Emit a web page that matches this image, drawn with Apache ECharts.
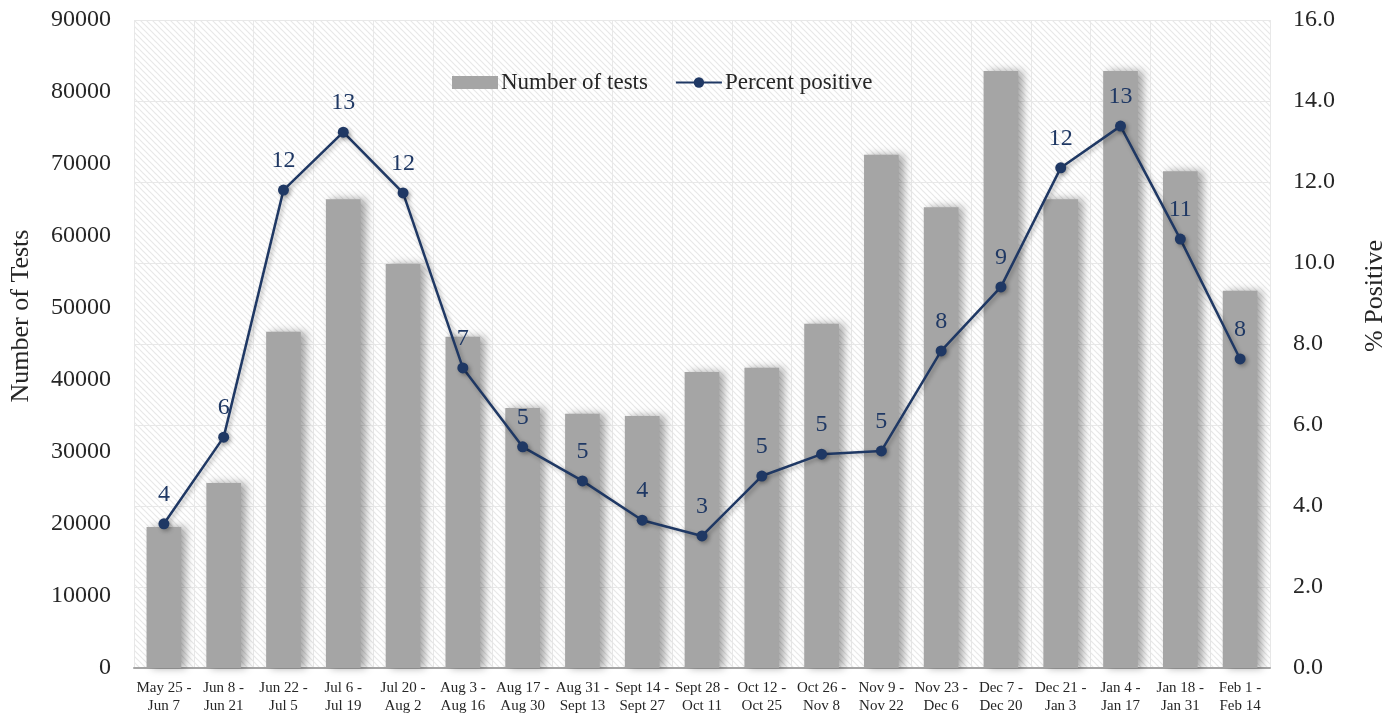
<!DOCTYPE html>
<html>
<head>
<meta charset="utf-8">
<script src="https://cdn.jsdelivr.net/npm/echarts@6/dist/echarts.min.js"></script>
<style>html,body{margin:0;padding:0;background:#fff;}#c{width:1400px;height:717px;}</style>
</head>
<body>
<div id="c"></div>
<script>
const categories = ["May 25 -\nJun 7","Jun 8 -\nJun 21","Jun 22 -\nJul 5","Jul 6 -\nJul 19","Jul 20 -\nAug 2","Aug 3 -\nAug 16","Aug 17 -\nAug 30","Aug 31 -\nSept 13","Sept 14 -\nSept 27","Sept 28 -\nOct 11","Oct 12 -\nOct 25","Oct 26 -\nNov 8","Nov 9 -\nNov 22","Nov 23 -\nDec 6","Dec 7 -\nDec 20","Dec 21 -\nJan 3","Jan 4 -\nJan 17","Jan 18 -\nJan 31","Feb 1 -\nFeb 14"];
const numberOfTests = [19600,25700,46700,65100,56100,46000,36100,35300,35000,41100,41700,47800,71300,64000,82900,65100,82900,69000,52400];
const percentPositive = [3.56,5.70,11.80,13.23,11.73,7.41,5.46,4.62,3.65,3.26,4.74,5.28,5.36,7.83,9.41,12.35,13.38,10.59,7.63];
const leftTicks = {min:0,max:90000,interval:10000};
const rightTicks = {min:0,max:16,interval:2};

const FONT = '"Liberation Serif", "DejaVu Serif", serif';
const TXT = '#262626';
const NAVY = '#1F3864';

// hatch pattern for plot background
const pc = document.createElement('canvas');
pc.width = 6; pc.height = 6;
const px = pc.getContext('2d');
px.fillStyle = '#ffffff'; px.fillRect(0,0,6,6);
px.strokeStyle = '#e8e8e8'; px.lineWidth = 1.2;
px.beginPath(); px.moveTo(-1,-1); px.lineTo(7,7); px.stroke();
px.beginPath(); px.moveTo(-1,5); px.lineTo(1,7); px.stroke();
px.beginPath(); px.moveTo(5,-1); px.lineTo(7,1); px.stroke();

const chart = echarts.init(document.getElementById('c'), null, {renderer:'canvas'});
chart.setOption({
  animation:false,
  backgroundColor:'#ffffff',
  textStyle:{fontFamily:FONT},
  grid:{left:133,right:130,top:20,bottom:49,show:true,borderWidth:0,
        backgroundColor:{image:pc,repeat:'repeat'}},
  legend:{
    left:447, top:66, itemWidth:46, itemHeight:13, itemGap:27,
    textStyle:{fontFamily:FONT,fontSize:23,color:TXT,padding:[0,0,0,-2]},
    data:[{name:'Number of tests',icon:'rect'},{name:'Percent positive'}]
  },
  xAxis:{
    type:'category', data:categories, boundaryGap:true,
    axisLine:{show:true,lineStyle:{color:'#A6A6A6',width:2}},
    axisTick:{show:false},
    splitLine:{show:true,interval:0,lineStyle:{color:'#E8E8E8',width:1}},
    axisLabel:{interval:0,margin:11,fontFamily:FONT,fontSize:15,lineHeight:18,color:TXT}
  },
  yAxis:[
    {type:'value',min:leftTicks.min,max:leftTicks.max,interval:leftTicks.interval,
     name:'Number of Tests',nameLocation:'middle',nameGap:100,nameRotate:90,
     nameTextStyle:{fontFamily:FONT,fontSize:26,color:TXT,padding:[0,0,0,56]},
     axisLine:{show:false},axisTick:{show:false},splitLine:{show:false},
     axisLabel:{margin:23,fontFamily:FONT,fontSize:24,color:TXT,formatter:v=>String(v)}},
    {type:'value',min:rightTicks.min,max:rightTicks.max,interval:rightTicks.interval,
     name:'% Positive',nameLocation:'middle',nameGap:92,nameRotate:90,
     nameTextStyle:{fontFamily:FONT,fontSize:26,color:TXT,padding:[0,0,0,96]},
     axisLine:{show:false},axisTick:{show:false},
     splitLine:{show:true,lineStyle:{color:'#E8E8E8',width:1}},
     axisLabel:{margin:23,fontFamily:FONT,fontSize:24,color:TXT,
       formatter:v=>v.toFixed(1)}}
  ],
  series:[
    {name:'Number of tests',type:'bar',yAxisIndex:0,data:numberOfTests,barWidth:'58%',
     itemStyle:{color:'#A5A5A5',shadowBlur:8,shadowOffsetX:5,shadowOffsetY:0,shadowColor:'rgba(0,0,0,0.35)'}},
    {name:'Percent positive',type:'line',yAxisIndex:1,data:percentPositive,
     symbol:'circle',symbolSize:11,
     lineStyle:{color:NAVY,width:2.5,shadowBlur:4,shadowOffsetX:2,shadowOffsetY:2,shadowColor:'rgba(0,0,0,0.3)'},
     itemStyle:{color:NAVY,shadowBlur:4,shadowOffsetX:2,shadowOffsetY:2,shadowColor:'rgba(0,0,0,0.3)'},
     label:{show:true,position:'top',distance:12,fontFamily:FONT,fontSize:24,color:NAVY,
       formatter:p=>Math.round(p.value)},
     z:5}
  ]
});
</script>
</body>
</html>
